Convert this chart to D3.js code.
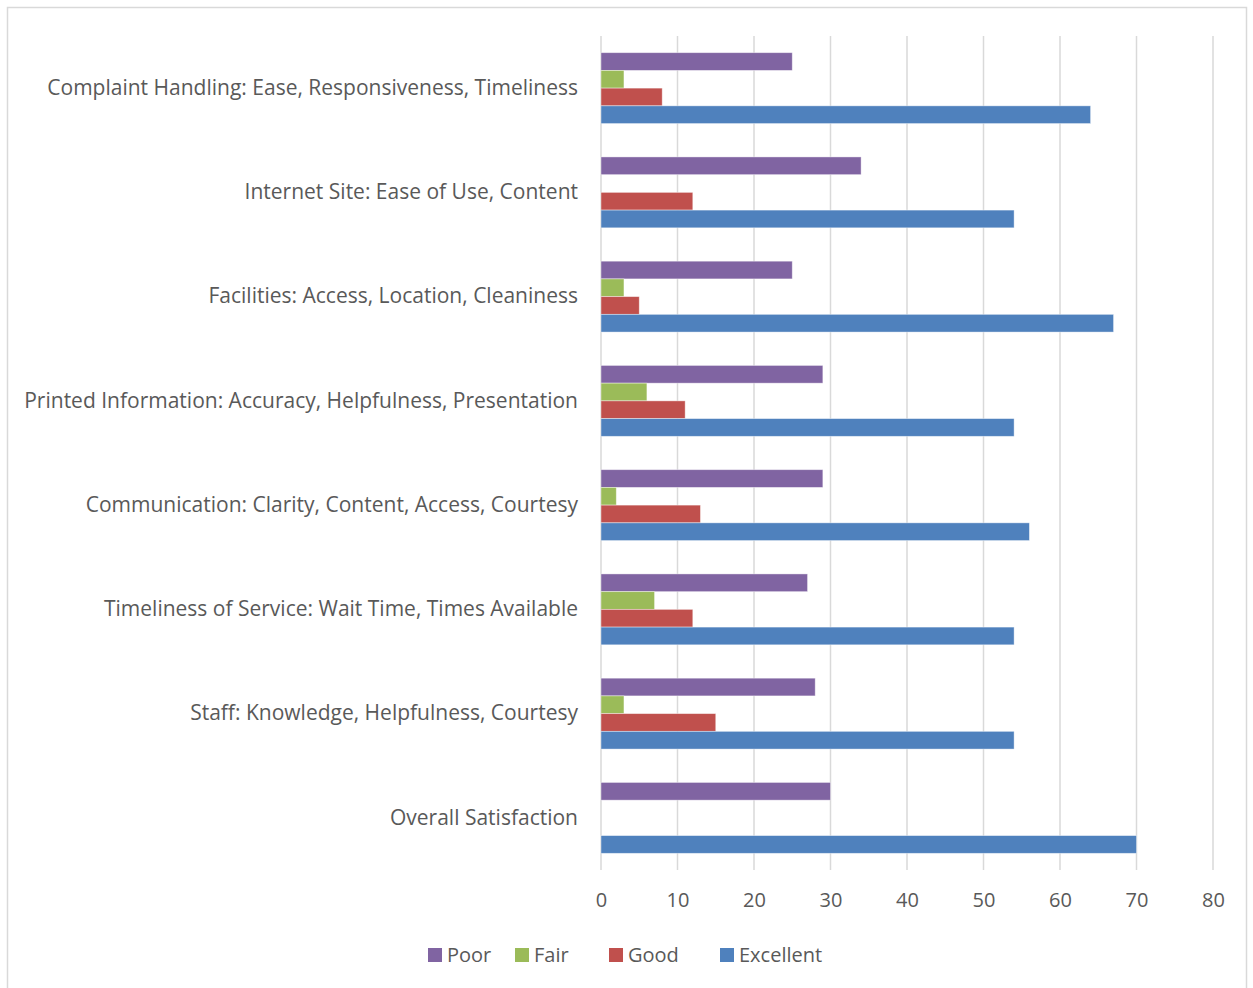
<!DOCTYPE html>
<html lang="en">

<head>
    <meta charset="utf-8">
    <script src="https://d3js.org/d3.v7.min.js"></script>
    <style>
        body { margin: 0; background: #fff; }
        text { font-family: "Open Sans", sans-serif; fill: #595959; }
    </style>
</head>

<body>
    <div class="chart"></div>

    <script>
        // data
        const categories = [
            "Complaint Handling: Ease, Responsiveness, Timeliness",
            "Internet Site: Ease of Use, Content",
            "Facilities: Access, Location, Cleaniness",
            "Printed Information: Accuracy, Helpfulness, Presentation",
            "Communication: Clarity, Content, Access, Courtesy",
            "Timeliness of Service: Wait Time, Times Available",
            "Staff: Knowledge, Helpfulness, Courtesy",
            "Overall Satisfaction"
        ];
        const seriesNames = ["Poor", "Fair", "Good", "Excellent"];
        const poor = [25, 34, 25, 29, 29, 27, 28, 30];
        const fair = [3, 0, 3, 6, 2, 7, 3, 0];
        const good = [8, 12, 5, 11, 13, 12, 15, 0];
        const excellent = [64, 54, 67, 54, 56, 54, 54, 70];
        const xTicks = [0, 10, 20, 30, 40, 50, 60, 70, 80];
        const colors = ["#8064A2", "#9BBB59", "#C0504D", "#4F81BD"];

        const seriesValues = [poor, fair, good, excellent];

        const width = 1253;
        const height = 988;
        const plot = { left: 601, right: 1213, top: 36, bottom: 870 };

        const svg = d3.select(".chart").append("svg")
            .attr("width", width)
            .attr("height", height);

        // outer chart border
        svg.append("rect")
            .attr("x", 7.5).attr("y", 7.5)
            .attr("width", 1239).attr("height", 990)
            .attr("fill", "none")
            .attr("stroke", "#d9d9d9")
            .attr("stroke-width", 1.5);

        const x = d3.scaleLinear()
            .domain([0, 80])
            .range([plot.left, plot.right]);

        const y = d3.scaleBand()
            .domain(categories)
            .range([plot.top, plot.bottom])
            .paddingInner(0.32)
            .paddingOuter(0.16);

        const ySeries = d3.scaleBand()
            .domain(seriesNames)
            .range([0, y.bandwidth()]);

        // gridlines
        svg.append("g")
            .selectAll("line")
            .data(xTicks)
            .enter()
            .append("line")
            .attr("x1", d => x(d)).attr("x2", d => x(d))
            .attr("y1", plot.top).attr("y2", plot.bottom)
            .attr("stroke", "#d9d9d9")
            .attr("stroke-width", 1.5);

        // x axis labels
        const xAxis = d3.axisBottom(x).tickValues(xTicks).tickSize(0).tickPadding(23);
        const gx = svg.append("g")
            .attr("transform", "translate(0," + plot.bottom + ")")
            .call(xAxis);
        gx.select(".domain").remove();
        gx.selectAll("text")
            .style("font-size", "20px")
            .attr("fill", "#595959");

        // category labels
        const yAxis = d3.axisLeft(y).tickSize(0).tickPadding(23);
        const gy = svg.append("g")
            .attr("transform", "translate(" + plot.left + ",0)")
            .call(yAxis);
        gy.select(".domain").remove();
        gy.selectAll("text")
            .style("font-size", "21px")
            .attr("fill", "#595959");

        // bars, one group per category
        const groups = svg.selectAll(".cat")
            .data(categories)
            .enter()
            .append("g")
            .attr("class", "cat")
            .attr("transform", d => "translate(0," + y(d) + ")");

        groups.selectAll("rect")
            .data((d, i) => seriesNames.map((s, j) => ({ s: s, v: seriesValues[j][i], c: colors[j] })))
            .enter()
            .append("rect")
            .attr("x", x(0))
            .attr("y", d => ySeries(d.s))
            .attr("width", d => x(d.v) - x(0))
            .attr("height", ySeries.bandwidth())
            .attr("fill", d => d.c)
            .attr("stroke", "#fff")
            .attr("stroke-opacity", d => d.v > 0 ? 0.5 : 0)
            .attr("stroke-width", 0.8);

        // legend
        const legendX = [428, 515, 609, 720];
        const legend = svg.append("g")
            .selectAll("g")
            .data(seriesNames)
            .enter()
            .append("g")
            .attr("transform", (d, i) => "translate(" + legendX[i] + ",948)");
        legend.append("rect")
            .attr("width", 14).attr("height", 14)
            .attr("fill", (d, i) => colors[i]);
        legend.append("text")
            .attr("x", 19)
            .attr("y", 7)
            .attr("dy", ".35em")
            .style("font-size", "20px")
            .text(d => d);
    </script>
</body>

</html>
